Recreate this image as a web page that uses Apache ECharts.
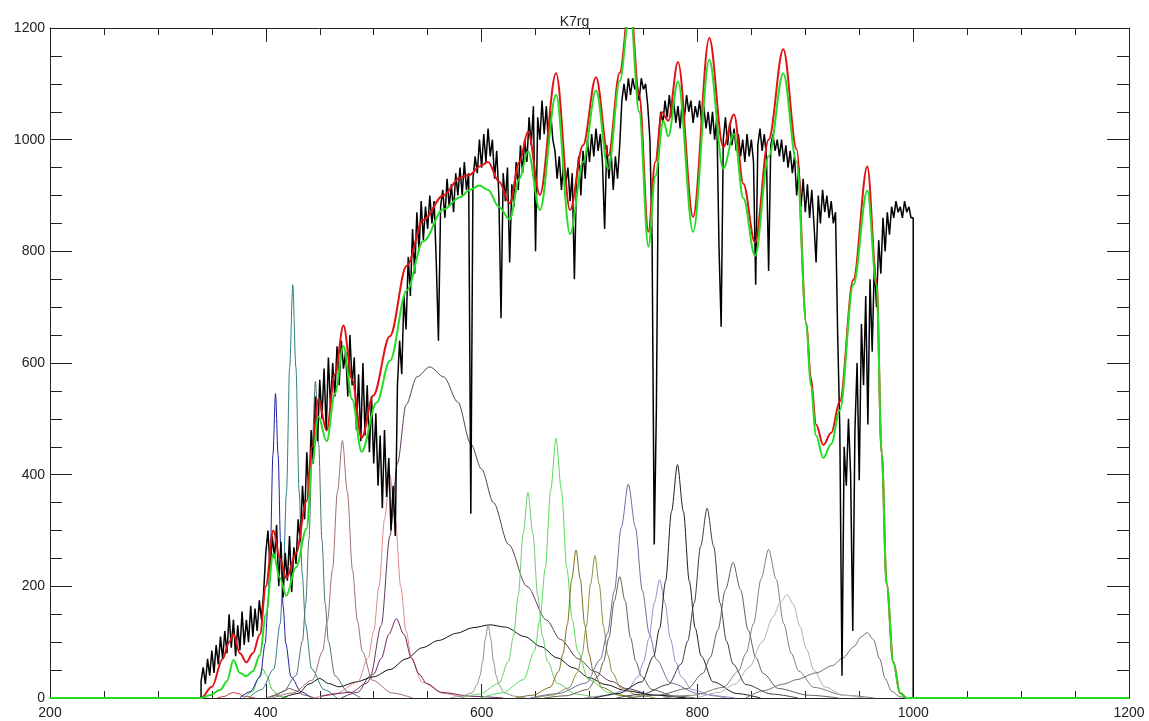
<!DOCTYPE html>
<html>
<head>
<meta charset="utf-8">
<title>K7rg</title>
<script src="https://cdn.jsdelivr.net/npm/echarts@6/dist/echarts.min.js"></script>
<style>
  html, body { margin: 0; padding: 0; background: #fff; }
  #chart { width: 1149px; height: 721px; }
</style>
</head>
<body>
<div id="chart"></div>
<script>
// axis range (nm / counts)
const xRange = [200, 1200];
const yRange = [0, 1200];

// observed K7 spectrum, sampled every 2 nm from 340 nm to 1000 nm
const specStart = 340;
const specStep = 2;
const specFlux = [
  30, 55, 25, 70, 40, 85, 45, 95, 60, 110,
  70, 120, 80, 150, 90, 140, 75, 130, 85, 155,
  95, 140, 100, 165, 110, 160, 120, 175, 140, 190,
  260, 300, 230, 290, 250, 310, 200, 280, 180, 260,
  210, 290, 190, 270, 240, 320, 280, 380, 320, 440,
  360, 480, 420, 540, 460, 570, 500, 590, 480, 610,
  520, 600, 540, 630, 560, 640, 590, 620, 540, 650,
  560, 610, 480, 580, 460, 600, 470, 560, 440, 540,
  420, 510, 380, 470, 340, 480, 360, 430, 300, 380,
  290, 560, 640, 580, 720, 660, 790, 720, 840, 760,
  870, 800, 890, 820, 880, 840, 900, 850, 890, 780,
  640, 880, 910, 860, 930, 880, 920, 870, 940, 900,
  950, 900, 960, 910, 940, 330, 930, 970, 940, 1000,
  950, 1010, 960, 1020, 970, 1000, 930, 980, 900, 680,
  940, 890, 950, 780, 920, 880, 960, 910, 990, 940,
  1000, 960, 1040, 990, 1060, 800, 1040, 1000, 1070, 1010,
  1060, 990, 1050, 1000, 980, 930, 970, 910, 960, 920,
  950, 890, 940, 750, 930, 970, 900, 980, 930, 1000,
  960, 1010, 970, 1020, 980, 1010, 960, 840, 990, 930,
  980, 910, 970, 930, 990, 1070, 1100, 1070, 1110, 1080,
  1110, 1090, 1100, 1070, 1110, 1090, 1100, 1060, 1000, 820,
  275, 520, 1000, 1050, 1030, 1070, 1040, 1080, 1040, 1070,
  1030, 1060, 1020, 1070, 1040, 1080, 1050, 1070, 1030, 1060,
  1040, 1070, 1030, 1060, 1020, 1050, 1010, 1050, 1000, 1040,
  810, 665, 1000, 1040, 990, 1030, 990, 1020, 980, 1010,
  970, 1000, 960, 1010, 970, 1000, 960, 740, 990, 1020,
  980, 1010, 970, 765, 990, 1010, 980, 1000, 970, 1000,
  960, 990, 950, 980, 940, 970, 900, 950, 880, 930,
  870, 920, 860, 910, 850, 780, 900, 850, 910, 870,
  900, 860, 890, 850, 870, 650, 480, 40, 450, 380,
  500, 400, 120, 480, 600, 390, 670, 560, 720, 490,
  750, 620, 780, 700, 820, 760, 860, 800, 870, 830,
  880, 860, 890, 870, 880, 860, 890, 870, 880, 860,
  860
];

// synthetic spectrum (red) and second model (green), [nm, value]
const modelRed = [
  [200, 0], [340, 0], [350, 20], [360, 70], [366, 100], [370, 114], [376, 80], [382, 64],
  [388, 80], [394.6, 114], [400, 200], [407, 300], [413, 250], [419, 215], [428, 259],
  [437.8, 353], [443, 450], [448.7, 535], [456.4, 479], [464, 580], [472, 667], [480, 570],
  [488.8, 466], [499.6, 542], [515, 648], [530.6, 774], [546, 856], [564.5, 900], [580, 932],
  [589, 937], [598, 952], [606, 960], [616, 925], [626, 886], [635, 960], [643, 1014],
  [654, 901], [669, 1119], [682, 874], [694, 990], [706, 1112], [717.5, 971], [728, 1120],
  [737.5, 1250], [746, 1080], [754.6, 835], [761, 960], [767, 1049], [773, 1034], [782, 1139],
  [796, 862], [811, 1182], [824, 987], [834, 1045], [842.6, 921], [853.4, 816], [866, 1000],
  [879.6, 1162], [892, 983], [901, 671], [905, 575], [910, 490], [916.7, 453], [924, 475],
  [932, 531], [944.5, 749], [957.5, 952], [966, 749], [970.8, 438], [975.4, 204], [981.6, 64],
  [987.8, 9], [994, 0], [1200, 0]
];
const modelGreen = [
  [200, 0], [340, 0], [348, 5], [358, 15], [364, 30], [370, 68], [376, 45], [382, 39],
  [388, 48], [394.6, 77], [400, 150], [407, 259], [413, 215], [419, 183], [428, 234],
  [437.8, 303], [443, 420], [448.7, 504], [456.4, 460], [464, 545], [472, 630], [480, 535],
  [488.8, 441], [502.7, 529], [515, 604], [530.6, 730], [546, 818], [564.5, 875], [580, 897],
  [589, 910], [598, 918], [606, 910], [616, 880], [626, 857], [635, 930], [643, 979],
  [654, 874], [669, 1080], [682, 831], [694, 960], [706, 1088], [717.5, 948], [728, 1105],
  [737.5, 1235], [746, 1050], [754.6, 808], [761, 935], [768.5, 1034], [773, 1006], [782, 1104],
  [796, 835], [811, 1143], [824, 948], [834, 1010], [842.6, 895], [853.4, 792], [866, 970],
  [879.6, 1119], [892, 960], [901, 670], [905, 560], [910, 470], [916.7, 430], [924, 455],
  [932, 516], [944.5, 740], [957.5, 909], [966, 740], [970.8, 438], [975.4, 204], [981.6, 64],
  [987.8, 9], [994, 0], [1200, 0]
];

// filter transmission curves, [nm, value]
const filt370 = [[355, 0], [362, 3], [367, 8], [370, 10], [374, 8], [380, 3], [390, 0]];
const filt397 = [[380, 0], [388, 12], [393, 35], [397, 52], [401, 40], [406, 15], [412, 3], [420, 0]];
const filt409 = [[375.8, 0], [385.3, 11], [394.8, 38], [399.5, 98], [401.9, 164], [404.3, 272], [406.6, 436], [409, 545], [411.4, 436], [413.8, 272], [416.1, 164], [418.5, 98], [423.3, 38], [432.8, 11], [442.3, 0]];
const filt422 = [[400, 0], [410, 5], [417, 13], [422, 17], [428, 13], [436, 5], [445, 0]];
const filt425 = [[384, 0], [396, 15], [407.5, 52], [413.3, 133], [416.2, 222], [419.2, 370], [422.1, 592], [425, 740], [427.9, 592], [430.9, 370], [433.8, 222], [436.7, 133], [442.5, 52], [454, 15], [466, 0]];
const filt446 = [[404, 0], [416, 11], [428, 40], [434, 102], [437, 170], [440, 284], [443, 454], [446, 567], [449, 454], [452, 284], [455, 170], [458, 102], [464, 40], [476, 11], [488, 0]];
const filt471 = [[406, 0], [425, 9], [443.3, 32], [452.5, 83], [457.1, 138], [461.8, 230], [466.4, 369], [471, 461], [475.6, 369], [480.3, 230], [484.9, 138], [489.5, 83], [498.8, 32], [517, 9], [536, 0]];
const filt515 = [[445, 0], [465, 8], [485, 28], [495, 72], [500, 120], [505, 200], [510, 320], [515, 400], [520, 320], [525, 200], [530, 120], [535, 72], [545, 28], [565, 8], [585, 0]];
const filt521 = [[451, 3], [479, 10], [493, 26], [500, 43], [507, 71], [514, 114], [521, 142], [528, 114], [535, 71], [542, 43], [549, 26], [563, 10], [591, 3], [620, 0]];
const filt552 = [[470, 0], [485, 10], [497, 40], [507, 130], [515, 290], [522, 420], [530, 525], [540, 575], [552, 593], [565, 575], [578, 530], [590, 455], [600, 410], [611, 350], [625, 275], [642, 200], [660, 140], [673, 105], [690, 70], [704, 48], [720, 30], [734, 17], [760, 5], [790, 0]];
const filt610 = [[415, 0], [430, 8], [440, 25], [450, 35], [458, 26], [468, 20], [484, 29], [500, 38], [515, 51], [530, 70], [545, 90], [560, 103], [577, 116], [592, 126], [608, 131], [622, 127], [640, 110], [655, 92], [670, 72], [685, 54], [700, 36], [715, 24], [734, 13], [760, 5], [790, 0]];
const filt606 = [[571, 0], [581, 3], [591, 9], [596, 24], [598.5, 40], [601, 66], [603.5, 106], [606, 132], [608.5, 106], [611, 66], [613.5, 40], [616, 24], [621, 9], [631, 3], [641, 0]];
const filt643 = [[580, 0], [598, 7], [616, 26], [625, 66], [629.5, 110], [634, 184], [638.5, 294], [643, 368], [647.5, 294], [652, 184], [656.5, 110], [661, 66], [670, 26], [688, 7], [706, 0]];
const filt669 = [[599, 0], [619, 9], [639, 33], [649, 84], [654, 140], [659, 232], [664, 372], [669, 465], [674, 372], [679, 232], [684, 140], [689, 84], [699, 33], [719, 9], [739, 0]];
const filt687 = [[631.5, 0], [647.5, 5], [663.5, 19], [671.5, 48], [675.5, 80], [679.5, 132], [683.5, 212], [687.5, 265], [691.5, 212], [695.5, 132], [699.5, 80], [703.5, 48], [711.5, 19], [727.5, 5], [743.5, 0]];
const filt705 = [[649, 0], [665, 5], [681, 18], [689, 46], [693, 77], [697, 128], [701, 204], [705, 255], [709, 204], [713, 128], [717, 77], [721, 46], [729, 18], [745, 5], [761, 0]];
const filt728 = [[658, 0], [678, 4], [698, 15], [708, 39], [713, 65], [718, 108], [723, 174], [728, 217], [733, 174], [738, 108], [743, 65], [748, 39], [758, 15], [778, 4], [798, 0]];
const filt736 = [[645, 0], [671, 8], [697, 27], [710, 69], [716.5, 115], [723, 192], [729.5, 306], [736, 383], [742.5, 306], [749, 192], [755.5, 115], [762, 69], [775, 27], [801, 8], [827, 0]];
const filt765 = [[695, 0], [715, 4], [735, 15], [745, 38], [750, 64], [755, 106], [760, 170], [765, 212], [770, 170], [775, 106], [780, 64], [785, 38], [795, 15], [815, 4], [835, 0]];
const filt782 = [[704.5, 0], [726.5, 8], [748.5, 29], [759.5, 75], [765, 125], [770.5, 209], [776, 334], [781.5, 418], [787, 334], [792.5, 209], [798, 125], [803.5, 75], [814.5, 29], [836.5, 8], [858.5, 0]];
const filt809 = [[725, 0], [749, 7], [773, 24], [785, 61], [791, 102], [797, 170], [803, 272], [809, 340], [815, 272], [821, 170], [827, 102], [833, 61], [845, 24], [869, 7], [893, 0]];
const filt833 = [[735, 0], [763, 5], [791, 17], [805, 44], [812, 73], [819, 122], [826, 194], [833, 243], [840, 194], [847, 122], [854, 73], [861, 44], [875, 17], [903, 5], [931, 0]];
const filt866 = [[768, 0], [796, 5], [824, 19], [838, 48], [845, 80], [852, 133], [859, 213], [866, 266], [873, 213], [880, 133], [887, 80], [894, 48], [908, 19], [936, 5], [964, 0]];
const filt883 = [[800, 0], [820, 10], [835, 25], [848, 55], [860, 100], [870, 145], [877, 172], [883, 185], [889, 168], [895, 128], [901, 88], [908, 50], [918, 20], [935, 5], [955, 0]];
const filt958 = [[845, 0], [861, 13], [880, 25], [892, 33], [910, 45], [925, 58], [935, 72], [945, 92], [952, 110], [957.5, 117], [963, 105], [969, 70], [974, 35], [980, 12], [988, 2], [995, 0]];

// line colours for the filter curves
const filterCurves = [
  [filt552, '#5e3a5e'], [filt610, '#111111'], [filt370, '#c03030'], [filt397, '#3cbc3c'],
  [filt409, '#1e1e9e'], [filt422, '#7a4a4a'], [filt425, '#2f7f7f'], [filt446, '#4e6e72'],
  [filt471, '#9e6e6e'], [filt515, '#e08686'], [filt521, '#6e1e5e'], [filt606, '#909090'],
  [filt643, '#6ccc6c'], [filt669, '#56dc56'], [filt687, '#7e6e1e'], [filt705, '#8e8e3e'],
  [filt728, '#5e5e4e'], [filt736, '#6e6ea0'], [filt765, '#9090cc'], [filt782, '#1e1e1e'],
  [filt809, '#3e3e3e'], [filt833, '#5e5e5e'], [filt866, '#7e7e7e'], [filt883, '#b0b0b0'],
  [filt958, '#6e6e6e']
];

const spectrum = [[specStart, 0]]
  .concat(specFlux.map((v, i) => [specStart + i * specStep, v]))
  .concat([[specStart + (specFlux.length - 1) * specStep, 0]]);

const axisColor = '#222';
const labelStyle = {
  color: '#222', fontSize: 14, fontFamily: 'Liberation Sans, Arial, sans-serif',
  formatter: v => String(v)
};

function makeX(pos, labels) {
  return {
    type: 'value', position: pos, min: xRange[0], max: xRange[1], interval: 200,
    axisLine: { show: true, onZero: false, lineStyle: { color: axisColor, width: 1 } },
    axisTick: { show: true, inside: true, length: 14, lineStyle: { color: axisColor } },
    minorTick: { show: true, splitNumber: 4, length: 7, lineStyle: { color: axisColor } },
    axisLabel: Object.assign({ show: labels, margin: 8 }, labelStyle),
    splitLine: { show: false }
  };
}
function makeY(pos, labels) {
  return {
    type: 'value', position: pos, min: yRange[0], max: yRange[1], interval: 200,
    axisLine: { show: true, onZero: false, lineStyle: { color: axisColor, width: 1 } },
    axisTick: { show: true, inside: true, length: 22, lineStyle: { color: axisColor } },
    minorTick: { show: true, splitNumber: 4, length: 12, lineStyle: { color: axisColor } },
    axisLabel: Object.assign({ show: labels, margin: 5 }, labelStyle),
    splitLine: { show: false }
  };
}

function lineSeries(data, color, width, smooth) {
  return {
    type: 'line', data: data, symbol: 'none', smooth: smooth, smoothMonotone: 'x',
    lineStyle: { color: color, width: width }, silent: true, clip: true
  };
}

const series = filterCurves.map(f => lineSeries(f[0], f[1], 1, 0.3));
series.push(lineSeries(spectrum, '#000000', 1.5, false));
series.push(lineSeries(modelRed, '#e01414', 2, 0.35));
series.push(lineSeries(modelGreen, '#24dc24', 2, 0.35));

const chart = echarts.init(document.getElementById('chart'));
chart.setOption({
  animation: false,
  backgroundColor: '#fff',
  title: {
    text: 'K7rg', left: 'center', top: 10,
    textStyle: { fontSize: 14, fontWeight: 'normal', color: '#222', fontFamily: 'Liberation Sans, Arial, sans-serif' }
  },
  grid: { left: 50, right: 20, top: 28, bottom: 23, containLabel: false },
  xAxis: [makeX('bottom', true), makeX('top', false)],
  yAxis: [makeY('left', true), makeY('right', false)],
  series: series
});
</script>
</body>
</html>
